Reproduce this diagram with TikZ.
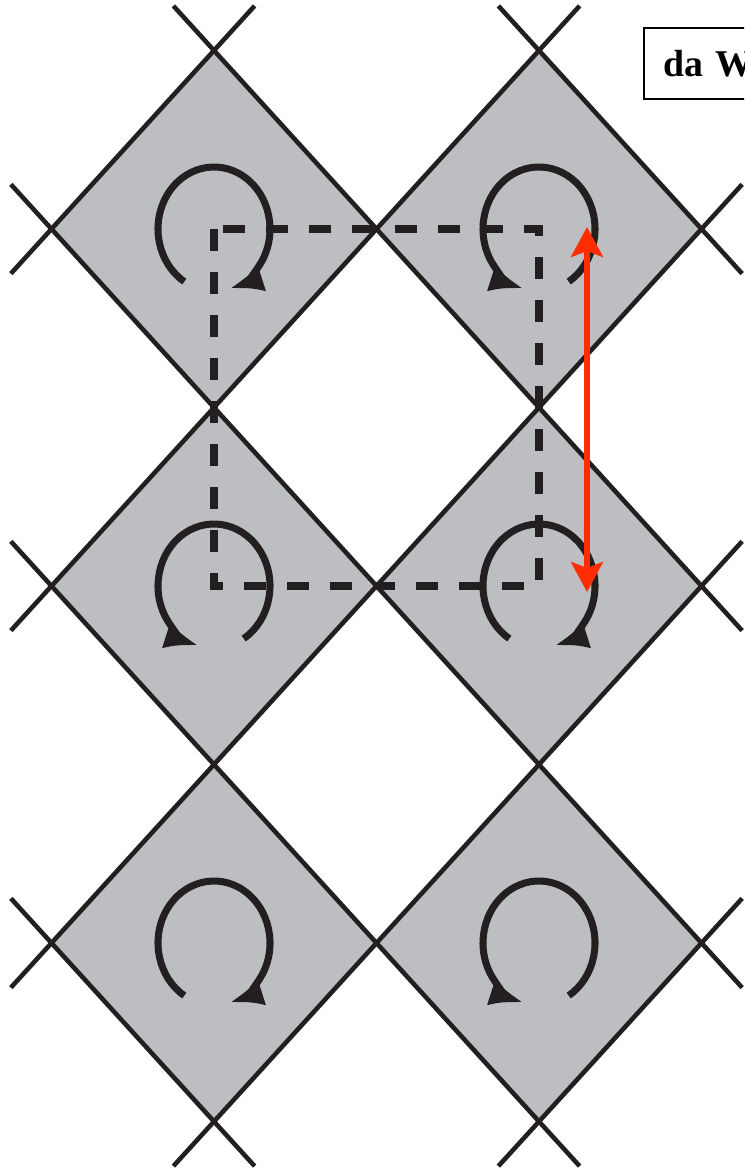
\documentclass[tikz,border=0pt]{standalone}
\usepackage{fontspec}
\newfontfamily\tagfont{Liberation Serif}
\usetikzlibrary{positioning,arrows.meta,shapes.geometric}
\definecolor{CellGrey}{RGB}{189,190,194}
\definecolor{CellInk}{RGB}{35,31,32}
\definecolor{CellRed}{RGB}{255,45,0}
\tikzset{
  cell/.style={diamond, fill=CellGrey, minimum width=6.5cm, minimum height=7.14cm, inner sep=0pt, outer sep=0pt},
  lattice/.style={draw=CellInk, line width=2.6pt},
  spin/.style={draw=CellInk, line width=4pt, -{Latex[length=0.68cm,width=0.55cm]}, x radius=1.12cm, y radius=1.24cm},
  dashlink/.style={draw=CellInk, line width=4.2pt, dash pattern=on 0.44cm off 0.42cm},
  span/.style={draw=CellRed, line width=3pt, {Stealth[length=0.6cm,width=0.64cm,inset=0.12cm]}-{Stealth[length=0.6cm,width=0.64cm,inset=0.12cm]}},
  tag/.style={draw=black, line width=1.2pt, fill=white, font=\tagfont\bfseries\fontsize{21.5}{26}\selectfont, text width=2.6cm, align=left, inner xsep=0.38cm, minimum height=1.42cm}
}

\begin{document}
\begin{tikzpicture}[x=3.25cm, y=3.57cm]
\useasboundingbox (-4.28cm,4.58cm) rectangle (10.60cm,-18.90cm);
\clip (-4.28cm,4.58cm) rectangle (10.60cm,-18.90cm);
% cells
\node[cell] (c11) at (0,0) {};
\node[cell, right=0pt of c11] (c12) {};
\node[cell, below=0pt of c11] (c21) {};
\node[cell, right=0pt of c21] (c22) {};
\node[cell, below=0pt of c21] (c31) {};
\node[cell, right=0pt of c31] (c32) {};
% lattice lines
\draw[lattice] (1.75,1.25) -- (3.25,-0.25);
\draw[lattice] (-0.25,1.25) -- (3.25,-2.25);
\draw[lattice] (-1.25,0.25) -- (3.25,-4.25);
\draw[lattice] (-1.25,-1.75) -- (2.25,-5.25);
\draw[lattice] (-1.25,-3.75) -- (0.25,-5.25);
\draw[lattice] (-1.25,-0.25) -- (0.25,1.25);
\draw[lattice] (-1.25,-2.25) -- (2.25,1.25);
\draw[lattice] (-1.25,-4.25) -- (3.25,0.25);
\draw[lattice] (-0.25,-5.25) -- (3.25,-1.75);
\draw[lattice] (1.75,-5.25) -- (3.25,-3.75);
% dashed loop
\draw[dashlink] (c11.center) rectangle (c22.center);
% spins
\draw[spin] ([shift={(238:1.12cm and 1.24cm)}]c11.center) arc[start angle=238, end angle=-74];
\draw[spin] ([shift={(-58:1.12cm and 1.24cm)}]c12.center) arc[start angle=-58, end angle=254];
\draw[spin] ([shift={(-58:1.12cm and 1.24cm)}]c21.center) arc[start angle=-58, end angle=254];
\draw[spin] ([shift={(238:1.12cm and 1.24cm)}]c22.center) arc[start angle=238, end angle=-74];
\draw[spin] ([shift={(238:1.12cm and 1.24cm)}]c31.center) arc[start angle=238, end angle=-74];
\draw[spin] ([shift={(-58:1.12cm and 1.24cm)}]c32.center) arc[start angle=-58, end angle=254];
% red span
\coordinate (gapTop) at ([shift={(0.96cm,0.04cm)}]c12.center);
\coordinate (gapBot) at ([shift={(0.96cm,-0.12cm)}]c22.center);
\draw[span] (gapTop) -- (gapBot);
% label
\node[tag, anchor=north west] (lbl) at (8.58cm,4.04cm) {da W};
\end{tikzpicture}
\end{document}
